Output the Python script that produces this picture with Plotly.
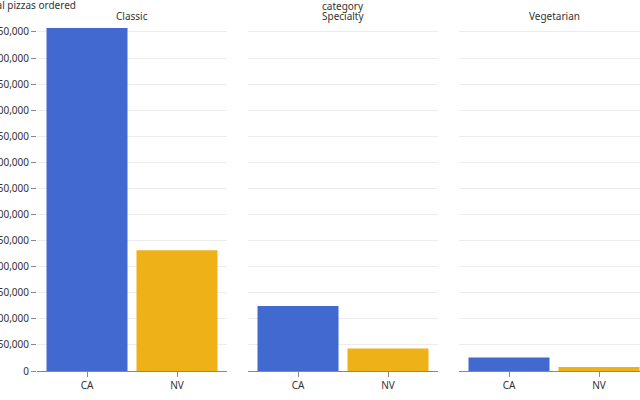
import plotly.graph_objects as go

categories = ["Classic", "Specialty", "Vegetarian"]
states = ["CA", "NV"]
values = {
    "Classic": [657600, 231400],
    "Specialty": [124600, 42900],
    "Vegetarian": [25700, 7700],
}
colors = {"CA": "#4269d0", "NV": "#efb118"}

W, H = 640, 400
ML, MT, MB = 0, 28, 29
plot_h = H - MT - MB
panels_px = [(37, 227), (248, 438), (459, 649)]
step = 90.0
pad = 5 / step

fig = go.Figure()
font = dict(family="Noto Sans, Open Sans, sans-serif", size=10, color="#333")

for i, cat in enumerate(categories):
    idx = "" if i == 0 else str(i + 1)
    for j, st in enumerate(states):
        fig.add_trace(go.Bar(
            x=[st], y=[values[cat][j]], marker_color=colors[st],
            marker_line_width=0, showlegend=False,
            xaxis="x" + idx, yaxis="y" + idx,
        ))
    x0, x1 = panels_px[i]
    d0 = x0 / W
    d1 = min(x1 / W, 1.0)
    visible = (min(x1, W) - x0) / step
    rng = [-0.5 - pad, -0.5 - pad + visible]
    fig.layout["xaxis" + idx] = dict(
        domain=[d0, d1], anchor="y" + idx, range=rng, type="category",
        categoryorder="array", categoryarray=states,
        showline=True, linecolor="#888", linewidth=1,
        ticks="outside", ticklen=5, tickcolor="#888", tickfont=font,
        showgrid=False, zeroline=False, fixedrange=True,
    )
    fig.layout["yaxis" + idx] = dict(
        domain=[0, 1], anchor="x" + idx, range=[0, 657600],
        dtick=50000, tickformat=",", showgrid=True, gridcolor="#ececec",
        gridwidth=1, zeroline=False, showline=False,
        ticks="outside" if i == 0 else "", ticklen=5, tickcolor="#888",
        showticklabels=(i == 0), tickfont=font, automargin=False,
        fixedrange=True,
    )
    fig.add_annotation(
        text=cat, xref="paper", yref="paper",
        x=((x0 + x1) / 2) / W, y=(H - MB - 16) / plot_h,
        xanchor="center", yanchor="middle", showarrow=False, font=font,
    )

fig.add_annotation(
    text="category", xref="paper", yref="paper",
    x=((panels_px[1][0] + panels_px[1][1]) / 2) / W, y=(H - MB - 6) / plot_h,
    xanchor="center", yanchor="middle", showarrow=False, font=font,
)
fig.add_annotation(
    text="Total pizzas ordered", xref="paper", yref="paper",
    x=78 / W, y=(H - MB - 5) / plot_h,
    xanchor="right", yanchor="middle", showarrow=False, font=font,
)

fig.update_layout(
    width=W, height=H, margin=dict(l=ML, r=0, t=MT, b=MB),
    plot_bgcolor="white", paper_bgcolor="white", bargap=0.1,
    font=font,
)

fig.write_html("out.html")
